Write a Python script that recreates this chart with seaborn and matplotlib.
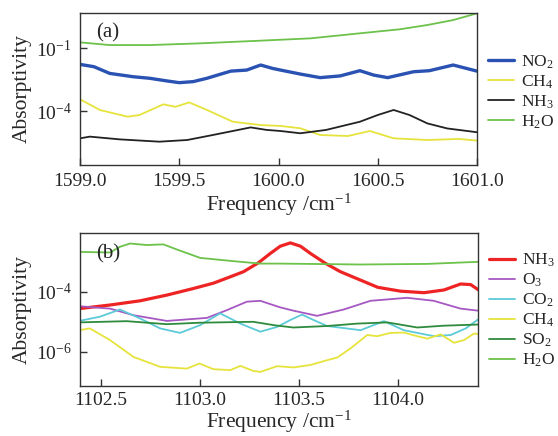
import matplotlib
matplotlib.use("Agg")
import matplotlib.pyplot as plt
import seaborn as sns
import pandas as pd
from matplotlib.ticker import NullLocator

# ---------------- Panel (a): 1599-1601 cm^-1 window ----------------
a_no2_f = [1599.00, 1599.07, 1599.15, 1599.27, 1599.35, 1599.44, 1599.50, 1599.57,
           1599.64, 1599.71, 1599.76, 1599.84, 1599.91, 1599.97, 1600.01, 1600.11,
           1600.21, 1600.31, 1600.41, 1600.48, 1600.55, 1600.68, 1600.76, 1600.88, 1601.00]
a_no2_v = [1.66e-2, 1.29e-2, 6.17e-3, 4.27e-3, 3.63e-3, 2.69e-3, 2.24e-3, 2.51e-3,
           3.63e-3, 5.75e-3, 7.94e-3, 8.91e-3, 1.55e-2, 1.07e-2, 8.91e-3, 5.75e-3,
           3.89e-3, 4.68e-3, 8.32e-3, 5.13e-3, 3.89e-3, 7.41e-3, 8.32e-3, 1.55e-2, 7.94e-3]

a_ch4_f = [1599.00, 1599.10, 1599.24, 1599.30, 1599.42, 1599.48, 1599.55, 1599.64,
           1599.77, 1599.91, 1600.01, 1600.11, 1600.21, 1600.35, 1600.46, 1600.58,
           1600.75, 1600.91, 1601.00]
a_ch4_v = [3.63e-4, 1.12e-4, 5.37e-5, 6.46e-5, 2.09e-4, 1.58e-4, 2.57e-4, 1.12e-4,
           3.09e-5, 2.14e-5, 1.95e-5, 1.51e-5, 7.24e-6, 6.46e-6, 1.12e-5, 5.01e-6,
           4.17e-6, 4.68e-6, 3.89e-6]

a_nh3_f = [1599.00, 1599.05, 1599.20, 1599.40, 1599.54, 1599.67, 1599.86, 1599.94,
           1600.01, 1600.11, 1600.24, 1600.41, 1600.50, 1600.58, 1600.66, 1600.75,
           1600.85, 1601.00]
a_nh3_v = [5.01e-6, 6.03e-6, 4.47e-6, 3.47e-6, 4.17e-6, 7.24e-6, 1.66e-5, 1.26e-5,
           1.12e-5, 8.71e-6, 1.26e-5, 3.09e-5, 6.46e-5, 1.12e-4, 6.46e-5, 2.57e-5,
           1.48e-5, 9.77e-6]

a_h2o_f = [1599.00, 1599.15, 1599.35, 1599.60, 1599.91, 1600.16, 1600.41, 1600.61,
           1600.75, 1600.88, 1601.00]
a_h2o_v = [0.186, 0.138, 0.138, 0.166, 0.224, 0.288, 0.501, 0.776, 1.245, 2.14, 4.47]

# ---------------- Panel (b): 1102.4-1104.4 cm^-1 window ----------------
b_nh3_f = [1102.39, 1102.546, 1102.698, 1102.833, 1102.968, 1103.07, 1103.154,
           1103.221, 1103.297, 1103.357, 1103.407, 1103.458, 1103.509, 1103.559,
           1103.635, 1103.711, 1103.813, 1103.90, 1104.015, 1104.134, 1104.235,
           1104.319, 1104.370, 1104.41]
b_nh3_v = [2.75e-5, 3.63e-5, 5.01e-5, 7.76e-5, 1.29e-4, 1.95e-4, 3.16e-4,
           4.68e-4, 9.33e-4, 1.91e-3, 3.31e-3, 4.27e-3, 3.31e-3, 1.91e-3,
           8.91e-4, 4.68e-4, 2.45e-4, 1.41e-4, 1.05e-4, 9.33e-5, 1.15e-4,
           1.82e-4, 1.74e-4, 1.15e-4]

b_o3_f = [1102.39, 1102.546, 1102.664, 1102.833, 1103.036, 1103.137, 1103.238,
          1103.306, 1103.407, 1103.475, 1103.593, 1103.728, 1103.863, 1104.049,
          1104.183, 1104.319, 1104.41]
b_o3_v = [3.31e-5, 2.75e-5, 1.66e-5, 1.07e-5, 1.35e-5, 2.45e-5, 4.68e-5, 5.01e-5,
          3.02e-5, 2.34e-5, 1.58e-5, 2.57e-5, 5.01e-5, 6.31e-5, 5.01e-5, 2.75e-5, 2.34e-5]

b_co2_f = [1102.39, 1102.495, 1102.596, 1102.698, 1102.799, 1102.900, 1103.002,
           1103.103, 1103.205, 1103.306, 1103.391, 1103.458, 1103.517, 1103.575,
           1103.644, 1103.813, 1103.931, 1104.032, 1104.184, 1104.269, 1104.345, 1104.41]
b_co2_v = [1.07e-5, 1.48e-5, 2.57e-5, 1.29e-5, 6.03e-6, 4.27e-6, 7.76e-6, 1.91e-5,
           8.71e-6, 4.68e-6, 6.76e-6, 1.15e-5, 1.74e-5, 1.15e-5, 7.24e-6, 5.25e-6,
           1.05e-5, 5.25e-6, 3.31e-6, 3.63e-6, 6.03e-6, 1.23e-5]

b_ch4_f = [1102.39, 1102.444, 1102.546, 1102.664, 1102.799, 1102.934, 1102.998,
           1103.069, 1103.154, 1103.205, 1103.272, 1103.306, 1103.391, 1103.475,
           1103.559, 1103.644, 1103.695, 1103.762, 1103.847, 1103.897, 1103.965,
           1104.032, 1104.100, 1104.151, 1104.218, 1104.286, 1104.336, 1104.387, 1104.41]
b_ch4_v = [5.25e-6, 6.03e-6, 2.45e-6, 6.76e-7, 3.16e-7, 2.75e-7, 4.07e-7, 2.63e-7,
           2.45e-7, 3.39e-7, 2.29e-7, 2.14e-7, 3.31e-7, 3.02e-7, 3.63e-7, 5.25e-7,
           6.46e-7, 1.29e-6, 3.63e-6, 3.31e-6, 4.27e-6, 4.37e-6, 3.31e-6, 2.75e-6,
           3.80e-6, 2.00e-6, 2.45e-6, 4.07e-6, 3.89e-6]

b_so2_f = [1102.39, 1102.630, 1102.833, 1103.002, 1103.270, 1103.382, 1103.473,
           1103.644, 1103.796, 1103.948, 1104.100, 1104.233, 1104.41]
b_so2_v = [9.55e-6, 1.05e-5, 8.32e-6, 9.33e-6, 1.0e-5, 7.59e-6, 6.46e-6, 7.24e-6,
           8.71e-6, 9.55e-6, 6.46e-6, 7.41e-6, 8.13e-6]

b_h2o_f = [1102.39, 1102.546, 1102.596, 1102.647, 1102.73, 1102.816, 1102.884,
           1103.002, 1103.17, 1103.306, 1103.407, 1103.813, 1104.15, 1104.41]
b_h2o_v = [2.14e-3, 2.04e-3, 3.16e-3, 4.07e-3, 3.63e-3, 3.80e-3, 2.57e-3,
           1.35e-3, 1.05e-3, 8.71e-4, 8.71e-4, 8.13e-4, 8.51e-4, 1.0e-3]

a_ticks = [1599.0, 1599.5, 1600.0, 1600.5, 1601.0]
b_ticks = [1102.5, 1103.0, 1103.5, 1104.0]

# (label, freqs, values, colour, linewidth)
series_a = [
    ("NO$_2$", a_no2_f, a_no2_v, "#2a52b2", 2.4),
    ("CH$_4$", a_ch4_f, a_ch4_v, "#e6e43c", 1.3),
    ("NH$_3$", a_nh3_f, a_nh3_v, "#222222", 1.3),
    ("H$_2$O", a_h2o_f, a_h2o_v, "#6cc24a", 1.3),
]
series_b = [
    ("NH$_3$", b_nh3_f, b_nh3_v, "#ee2424", 2.3),
    ("O$_3$", b_o3_f, b_o3_v, "#a658c2", 1.3),
    ("CO$_2$", b_co2_f, b_co2_v, "#5ccad8", 1.3),
    ("CH$_4$", b_ch4_f, b_ch4_v, "#e6e43c", 1.3),
    ("SO$_2$", b_so2_f, b_so2_v, "#2e8b3e", 1.3),
    ("H$_2$O", b_h2o_f, b_h2o_v, "#6cc24a", 1.3),
]

sns.set_style("ticks")
plt.rcParams["font.family"] = ["Liberation Serif", "DejaVu Serif"]
plt.rcParams["mathtext.fontset"] = "custom"
plt.rcParams["mathtext.rm"] = "Liberation Serif"
plt.rcParams["mathtext.it"] = "Liberation Serif:italic"
plt.rcParams["mathtext.bf"] = "Liberation Serif:bold"
plt.rcParams["axes.unicode_minus"] = True

fig = plt.figure(figsize=(5.58, 4.36), dpi=100)
ax_a = fig.add_axes([80 / 558, 1 - 165 / 436, 397 / 558, 152 / 436])
ax_b = fig.add_axes([80 / 558, 1 - 385.7 / 436, 398 / 558, 152.4 / 436])


def draw_panel(ax, series, xlim, ylim, xticks, yticks, tag, legend_y, xpad, tpad):
    for label, f, v, color, lw in series:
        df = pd.DataFrame({"freq": f, "val": v})
        sns.lineplot(data=df, x="freq", y="val", ax=ax, color=color,
                     linewidth=lw, label=label, sort=False)
    ax.set_yscale("log")
    ax.set_xlim(*xlim)
    ax.set_ylim(*ylim)
    ax.set_xticks(xticks)
    ax.set_xticklabels([f"{t:.1f}" for t in xticks])
    ax.set_yticks(yticks)
    ax.yaxis.set_minor_locator(NullLocator())
    ax.tick_params(axis="both", direction="in", length=5, width=1,
                   labelsize=14, color="#333333", pad=6)
    ax.tick_params(axis="x", pad=tpad)
    for sp in ax.spines.values():
        sp.set_color("#333333")
        sp.set_linewidth(1.0)
    ax.set_xlabel("Frequency /cm$^{-1}$", fontsize=15.5, labelpad=xpad)
    ax.set_ylabel("Absorptivity", fontsize=15.5, labelpad=3)
    ax.text(0.04, 0.93, tag, transform=ax.transAxes, fontsize=15,
            ha="left", va="top")
    ax.legend(loc="upper left", bbox_to_anchor=(1.028, legend_y), frameon=False,
              fontsize=12.5, handlelength=1.5, handletextpad=0.4,
              labelspacing=0.15, borderaxespad=0, borderpad=0)


draw_panel(ax_a, series_a, (1599.0, 1601.0), (10 ** -6.57, 10 ** 0.667),
           a_ticks, [1e-1, 1e-4], "(a)", 0.735, 1, 6)
draw_panel(ax_b, series_b, (1102.394, 1104.407), (10 ** -7.13, 10 ** -2.05),
           b_ticks, [1e-4, 1e-6], "(b)", 0.88, 0, 4.5)

fig.savefig("out.png", dpi=100)
